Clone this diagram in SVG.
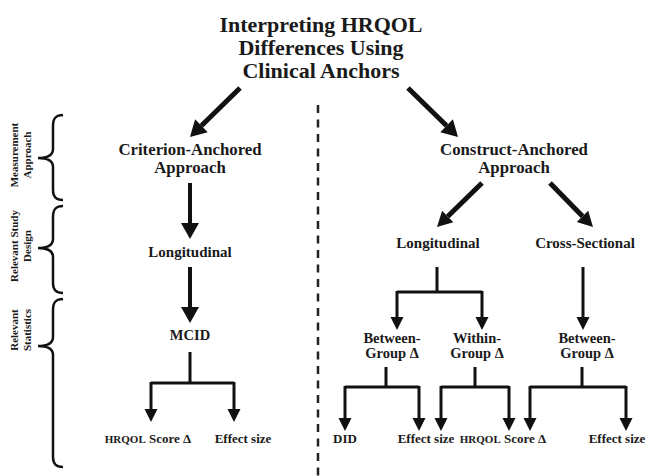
<svg xmlns="http://www.w3.org/2000/svg" width="648" height="476" viewBox="0 0 648 476">
<defs>
<marker id="big" markerUnits="userSpaceOnUse" markerWidth="20" markerHeight="22" refX="0" refY="0" orient="auto" overflow="visible"><path d="M0,-9 L16,0 L0,9 Z" fill="#111"/></marker>
<marker id="mid" markerUnits="userSpaceOnUse" markerWidth="20" markerHeight="22" refX="0" refY="0" orient="auto" overflow="visible"><path d="M0,-8 L15,0 L0,8 Z" fill="#111"/></marker>
<marker id="small" markerUnits="userSpaceOnUse" markerWidth="16" markerHeight="16" refX="0" refY="0" orient="auto" overflow="visible"><path d="M0,-6.5 L13,0 L0,6.5 Z" fill="#111"/></marker>
</defs>
<style>
text{font-family:"Liberation Serif","Times New Roman",serif;font-weight:bold;fill:#1a1a1a;text-anchor:middle}
.title{font-size:22px}
.app{font-size:16.8px}
.n15{font-size:15px}
.n14{font-size:14.5px}
.leaf{font-size:13px}
.sm{font-size:11px}
.side{font-size:11px}
.thick{stroke:#111;stroke-width:5;fill:none}
.med{stroke:#111;stroke-width:4;fill:none}
.thin{stroke:#111;stroke-width:3;fill:none}
.brace{stroke:#111;stroke-width:2.5;fill:none}
.dash{stroke:#222;stroke-width:2.5;stroke-dasharray:8,6.5;fill:none}
</style>
<rect width="648" height="476" fill="#fff"/>

<g id="title">
<text class="title" x="321" y="32">Interpreting HRQOL</text>
<text class="title" x="321" y="55">Differences Using</text>
<text class="title" x="321" y="78">Clinical Anchors</text>
</g>

<g id="side-labels">
<path class="brace" d="M63,115 C56,115 53,118 53,126 L53,149 C53,155 48,158 38,158 C48,158 53,161 53,167 L53,190 C53,197 56,200 63,200"/>
<path class="brace" d="M63,206 C56,206 53,209 53,217 L53,239 C53,245 48,248 38,248 C48,248 53,251 53,257 L53,283 C53,290 56,293 63,293"/>
<path class="brace" d="M63,299 C56,299 53,302 53,310 L53,337 C53,343 48,346 38,346 C48,346 53,349 53,355 L53,457 C53,464 56,467 63,467"/>
<g id="lbl-measurement"><text class="side" transform="translate(18,155) rotate(-90)">Measurement</text><text class="side" transform="translate(31,155) rotate(-90)">Approach</text></g>
<g id="lbl-design"><text class="side" transform="translate(18,246) rotate(-90)">Relevant Study</text><text class="side" transform="translate(31,246) rotate(-90)">Design</text></g>
<g id="lbl-stats"><text class="side" transform="translate(18,330) rotate(-90)">Relevant</text><text class="side" transform="translate(31,330) rotate(-90)">Statistics</text></g>
</g>

<g id="connectors">
<line class="dash" x1="318" y1="105" x2="318" y2="476"/>
<line class="thick" x1="240" y1="88" x2="201.4" y2="125.8" marker-end="url(#big)"/>
<line class="thick" x1="408" y1="88" x2="446.6" y2="125.8" marker-end="url(#big)"/>
<line class="med" x1="190" y1="183" x2="190" y2="223" marker-end="url(#big)"/>
<line class="med" x1="190" y1="267" x2="190" y2="307" marker-end="url(#big)"/>
<path class="thin" d="M190,352 V383 M151,383 H234"/>
<line class="thin" x1="151" y1="382" x2="151" y2="409" marker-end="url(#small)"/>
<line class="thin" x1="234" y1="382" x2="234" y2="409" marker-end="url(#small)"/>
<line class="thick" x1="482" y1="183" x2="447.7" y2="216.5" marker-end="url(#mid)"/>
<line class="thick" x1="550" y1="183" x2="582.5" y2="216.3" marker-end="url(#mid)"/>
<path class="thin" d="M437,267 V292 M397,292 H482"/>
<line class="thin" x1="397" y1="291" x2="397" y2="317" marker-end="url(#small)"/>
<line class="thin" x1="482" y1="291" x2="482" y2="317" marker-end="url(#small)"/>
<line class="thin" x1="583" y1="267" x2="583" y2="317" marker-end="url(#small)"/>
<path class="thin" d="M386,367 V387 M345,387 H419"/>
<line class="thin" x1="345" y1="386" x2="345" y2="418" marker-end="url(#small)"/>
<line class="thin" x1="419" y1="386" x2="419" y2="418" marker-end="url(#small)"/>
<path class="thin" d="M475,367 V387 M441,387 H509"/>
<line class="thin" x1="441" y1="386" x2="441" y2="418" marker-end="url(#small)"/>
<line class="thin" x1="509" y1="386" x2="509" y2="418" marker-end="url(#small)"/>
<path class="thin" d="M582,367 V387 M530,387 H626"/>
<line class="thin" x1="530" y1="386" x2="530" y2="418" marker-end="url(#small)"/>
<line class="thin" x1="626" y1="386" x2="626" y2="418" marker-end="url(#small)"/>
</g>

<g id="criterion"><text class="app" x="190" y="155">Criterion-Anchored</text><text class="app" x="190" y="173">Approach</text></g>
<g id="long-left"><text class="n15" x="190" y="257">Longitudinal</text></g>
<g id="mcid"><text class="n14" x="190" y="340">MCID</text></g>
<g id="hrqol-left"><text class="leaf" x="148" y="443"><tspan class="sm">HRQOL</tspan> Score Δ</text></g>
<g id="effect-left"><text class="leaf" x="243" y="443">Effect size</text></g>

<g id="construct"><text class="app" x="514" y="155">Construct-Anchored</text><text class="app" x="514" y="173">Approach</text></g>
<g id="long-right"><text class="n15" x="438" y="248">Longitudinal</text></g>
<g id="cross"><text class="n15" x="585" y="248">Cross-Sectional</text></g>
<g id="between1"><text class="n14" x="392" y="343">Between-</text><text class="n14" x="392" y="358">Group Δ</text></g>
<g id="within"><text class="n14" x="477" y="343">Within-</text><text class="n14" x="477" y="358">Group Δ</text></g>
<g id="between2"><text class="n14" x="587" y="343">Between-</text><text class="n14" x="587" y="358">Group Δ</text></g>
<g id="did"><text class="leaf" x="345" y="443">DID</text></g>
<g id="effect-mid"><text class="leaf" x="426" y="443">Effect size</text></g>
<g id="hrqol-right"><text class="leaf" x="503" y="443"><tspan class="sm">HRQOL</tspan> Score Δ</text></g>
<g id="effect-right"><text class="leaf" x="617" y="443">Effect size</text></g>
</svg>
